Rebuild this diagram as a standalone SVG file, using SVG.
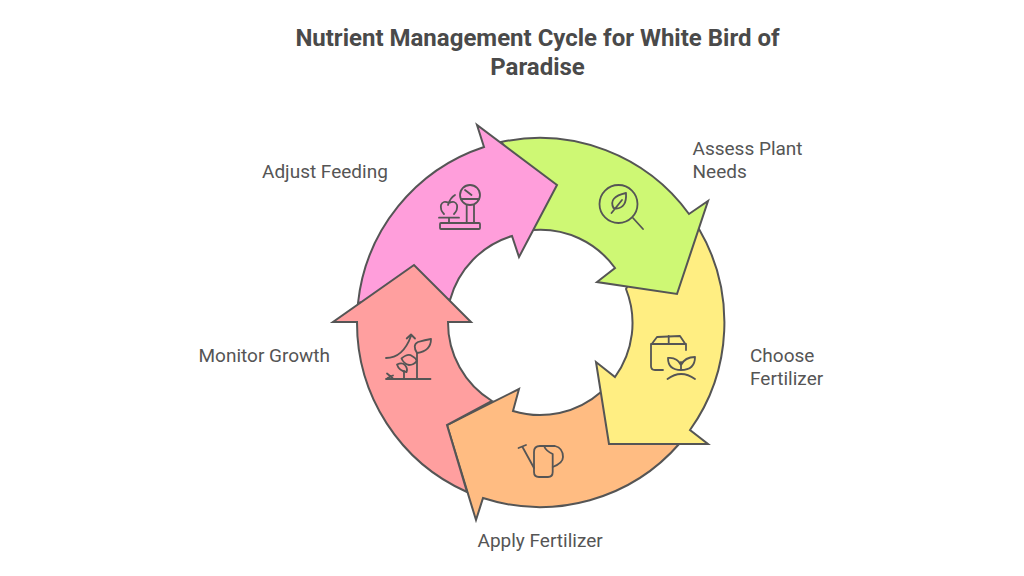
<svg xmlns="http://www.w3.org/2000/svg" width="1024" height="576" viewBox="0 0 1024 576">
<style>
.s{stroke:#555;stroke-width:2;stroke-linejoin:miter}
.i{fill:none;stroke:#555;stroke-width:1.800;stroke-linecap:round;stroke-linejoin:round}
.t{font-family:Roboto,"Liberation Sans",sans-serif;font-size:19px;fill:#555}
.h{font-family:Roboto,"Liberation Sans",sans-serif;font-size:24px;font-weight:700;fill:#4a4a4a;text-anchor:middle}
</style>
<rect width="1024" height="576" fill="#fff"/>
<g id="title"><text class="h" x="537.500" y="46">Nutrient Management Cycle for White Bird of</text><text class="h" x="537.500" y="75">Paradise</text></g>
<g id="connectors"></g>
<g id="apply-fertilizer">
<path class="s" fill="#FFBC82" d="M447 425L519 389L513 411A92 92 0 0 0 601 392L640 420L680 443A185 185 0 0 1 483 498L476 520Z"/>
<g class="i"><path d="M518.500 448L526 445M522.500 447L534 468"/><path d="M534 452Q534 446 540 446L544 446Q546 451 552.700 454L552.700 472Q552.700 477 548 477L539 477Q534 477 534 472Z"/><path d="M544 446L555 446Q563 448 563 457Q563 463 552.700 467"/></g>
</g>
<g id="choose-fertilizer">
<path class="s" fill="#FFEE82" d="M609 444L708 444L690 430A185 185 0 0 0 699 229L640 260L626 289A92 92 0 0 1 615 377L596 362Z"/>
<g class="i"><path d="M663 370L655 370Q651 370 651 366L651 345L657 337L680 336L686 345L686 350"/><path d="M651 344L686 344M668.700 336L668.700 344"/><path d="M681 370L681 362M681 370Q668 370 668 358Q677 357 681 365Q685 357 695 357Q695 370 681 370"/><path d="M667.500 379Q681 369 695 379"/></g>
</g>
<g id="assess-plant-needs">
<path class="s" fill="#CEF874" d="M677 294L708 201L689 214A185 185 0 0 0 501 142L540 190L533 230A92 92 0 0 1 615 268L597 282Z"/>
<g class="i"><circle cx="618.500" cy="204" r="19"/><line x1="633" y1="218" x2="643" y2="229"/><path d="M613.500 208Q608 197 626 193Q627 208 616 208.500ZM611.500 213L622 200"/></g>
</g>
<g id="adjust-feeding">
<path class="s" fill="#FF9EDB" d="M557 185L477 125L484 147A185 185 0 0 0 358 303L414 290L450 300A92 92 0 0 1 512 236L519 257Z"/>
<g class="i"><path d="M441 223L479 223Q480 223 480 224L480 228Q480 229 479 229L441 229Q440 229 440 228L440 224Q440 223 441 223Z"/><path d="M439 217.700L459 217.700M449 217.700L449 223"/><path d="M444 214Q440 210 441 205Q443 200 449 203Q455 200 457 205Q458 210 454 214M448 205Q450 198 455 195"/><path d="M466.700 223L466.700 205M474 223L474 205"/><circle cx="470" cy="195" r="10"/><path d="M461 199L479 199M465 190L471.500 195"/></g>
</g>
<g id="monitor-growth">
<path class="s" fill="#FF9F9F" d="M414 265L333 322L357 322A185 185 0 0 0 467 492L447 425L492 401A92 92 0 0 1 448 322L471 322Z"/>
<g class="i"><path d="M386 379L430.500 379"/><path d="M386 358Q403 358 411 336M406.700 338.500L411 334.500L415 338.500"/><path d="M417 379L417 353"/><path d="M417 353Q412 345 418 342Q425 340 431 339Q431 351 417 353Z"/><path d="M401.500 358.500Q408 353 412 356Q416 358 416.700 361Q414 365 409 365Q404 364 401.500 358.500Z"/><path d="M404 379L404 371"/><path d="M397 364.500Q402 362 405 365Q408 369 406.500 372Q399 371 397 364.500Z"/><path d="M387 373.500L392.500 378M387.500 378L393 375.500"/></g>
</g>
<g id="labels">
<text class="t" x="692.500" y="155">Assess Plant</text><text class="t" x="692.500" y="178">Needs</text>
<text class="t" x="262" y="178">Adjust Feeding</text>
<text class="t" x="750" y="362">Choose</text><text class="t" x="750" y="385">Fertilizer</text>
<text class="t" x="198.500" y="362">Monitor Growth</text>
<text class="t" x="477.500" y="546.500">Apply Fertilizer</text>
</g>
</svg>
